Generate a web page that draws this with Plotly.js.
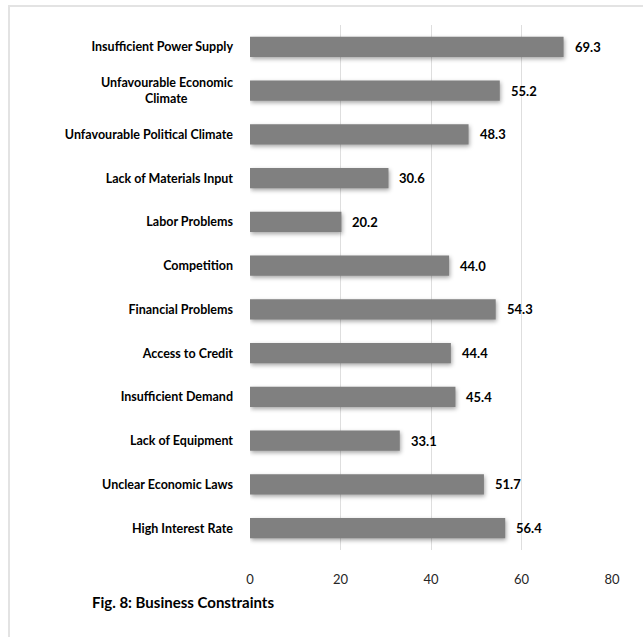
<!DOCTYPE html>
<html>
<head>
<meta charset="utf-8">
<script src="https://cdn.plot.ly/plotly-3.0.1.min.js"></script>
<style>
  html, body { margin: 0; padding: 0; background: #ffffff; overflow: hidden; }
  #frame {
    position: absolute; left: 8px; top: 5px; width: 700px; height: 700px;
    border: 2px solid #e3e3e3; box-sizing: border-box; pointer-events: none; z-index: 2;
  }
  #chart { position: absolute; left: 0; top: 0; width: 643px; height: 637px; }
  .trace.bars .point path { filter: drop-shadow(1px 2px 2px rgba(0,0,0,0.35)); }
</style>
</head>
<body>
<div id="chart"></div>
<div id="frame"></div>
<script>
// Business constraints, percentage of respondents
const categories = [
  "Insufficient Power Supply",
  "Unfavourable Economic Climate",
  "Unfavourable Political Climate",
  "Lack of Materials Input",
  "Labor Problems",
  "Competition",
  "Financial Problems",
  "Access to Credit",
  "Insufficient Demand",
  "Lack of Equipment",
  "Unclear Economic Laws",
  "High Interest Rate"
];
// axis labels; the long one wraps onto two centred lines
const categoryLabels = [
  "Insufficient Power Supply",
  "Unfavourable Economic<br>Climate" + "&nbsp;".repeat(15),
  "Unfavourable Political Climate",
  "Lack of Materials Input",
  "Labor Problems",
  "Competition",
  "Financial Problems",
  "Access to Credit",
  "Insufficient Demand",
  "Lack of Equipment",
  "Unclear Economic Laws",
  "High Interest Rate"
];
const values = [69.3, 55.2, 48.3, 30.6, 20.2, 44.0, 54.3, 44.4, 45.4, 33.1, 51.7, 56.4];
const tickValues = [0, 20, 40, 60, 80];
const figureTitle = "Fig. 8: Business Constraints";

const labelFont = "Lato, 'Liberation Sans', sans-serif";

const trace = {
  type: "bar",
  orientation: "h",
  x: values,
  y: categories,
  marker: { color: "#808080", line: { width: 0 } },
  width: 0.46,
  hoverinfo: "skip"
};

// value labels placed just past the end of each bar
const valueLabels = values.map((v, i) => ({
  x: v,
  y: categories[i],
  xref: "x",
  yref: "y",
  text: v.toFixed(1),
  showarrow: false,
  xanchor: "left",
  yanchor: "middle",
  xshift: 9,
  font: { family: labelFont, size: 13, color: "#000000", weight: "bold" }
}));

const layout = {
  width: 643,
  height: 637,
  margin: { l: 250, r: 31, t: 25, b: 87 },
  paper_bgcolor: "#ffffff",
  plot_bgcolor: "#ffffff",
  showlegend: false,
  bargap: 0.54,
  title: {
    text: "<b>" + figureTitle + "</b>",
    x: 92 / 643,
    xanchor: "left",
    xref: "container",
    y: 1 - 603 / 637,
    yanchor: "middle",
    yref: "container",
    font: { family: labelFont, size: 15, color: "#000000" }
  },
  xaxis: {
    range: [0, 80],
    tickvals: tickValues,
    ticktext: tickValues.map(String),
    showgrid: true,
    gridcolor: "#dedede",
    gridwidth: 1,
    zeroline: false,
    showline: false,
    ticks: "",
    ticklabelstandoff: 20,
    tickfont: { family: labelFont, size: 13, color: "#262626" },
    fixedrange: true
  },
  yaxis: {
    autorange: "reversed",
    tickmode: "array",
    tickvals: categories,
    ticktext: categoryLabels,
    showgrid: false,
    zeroline: false,
    showline: false,
    ticks: "",
    ticklabelstandoff: 16,
    tickfont: { family: labelFont, size: 12.5, color: "#000000", weight: "bold" },
    fixedrange: true
  },
  annotations: valueLabels
};

Plotly.newPlot("chart", [trace], layout, { displayModeBar: false, staticPlot: true });
</script>
</body>
</html>
